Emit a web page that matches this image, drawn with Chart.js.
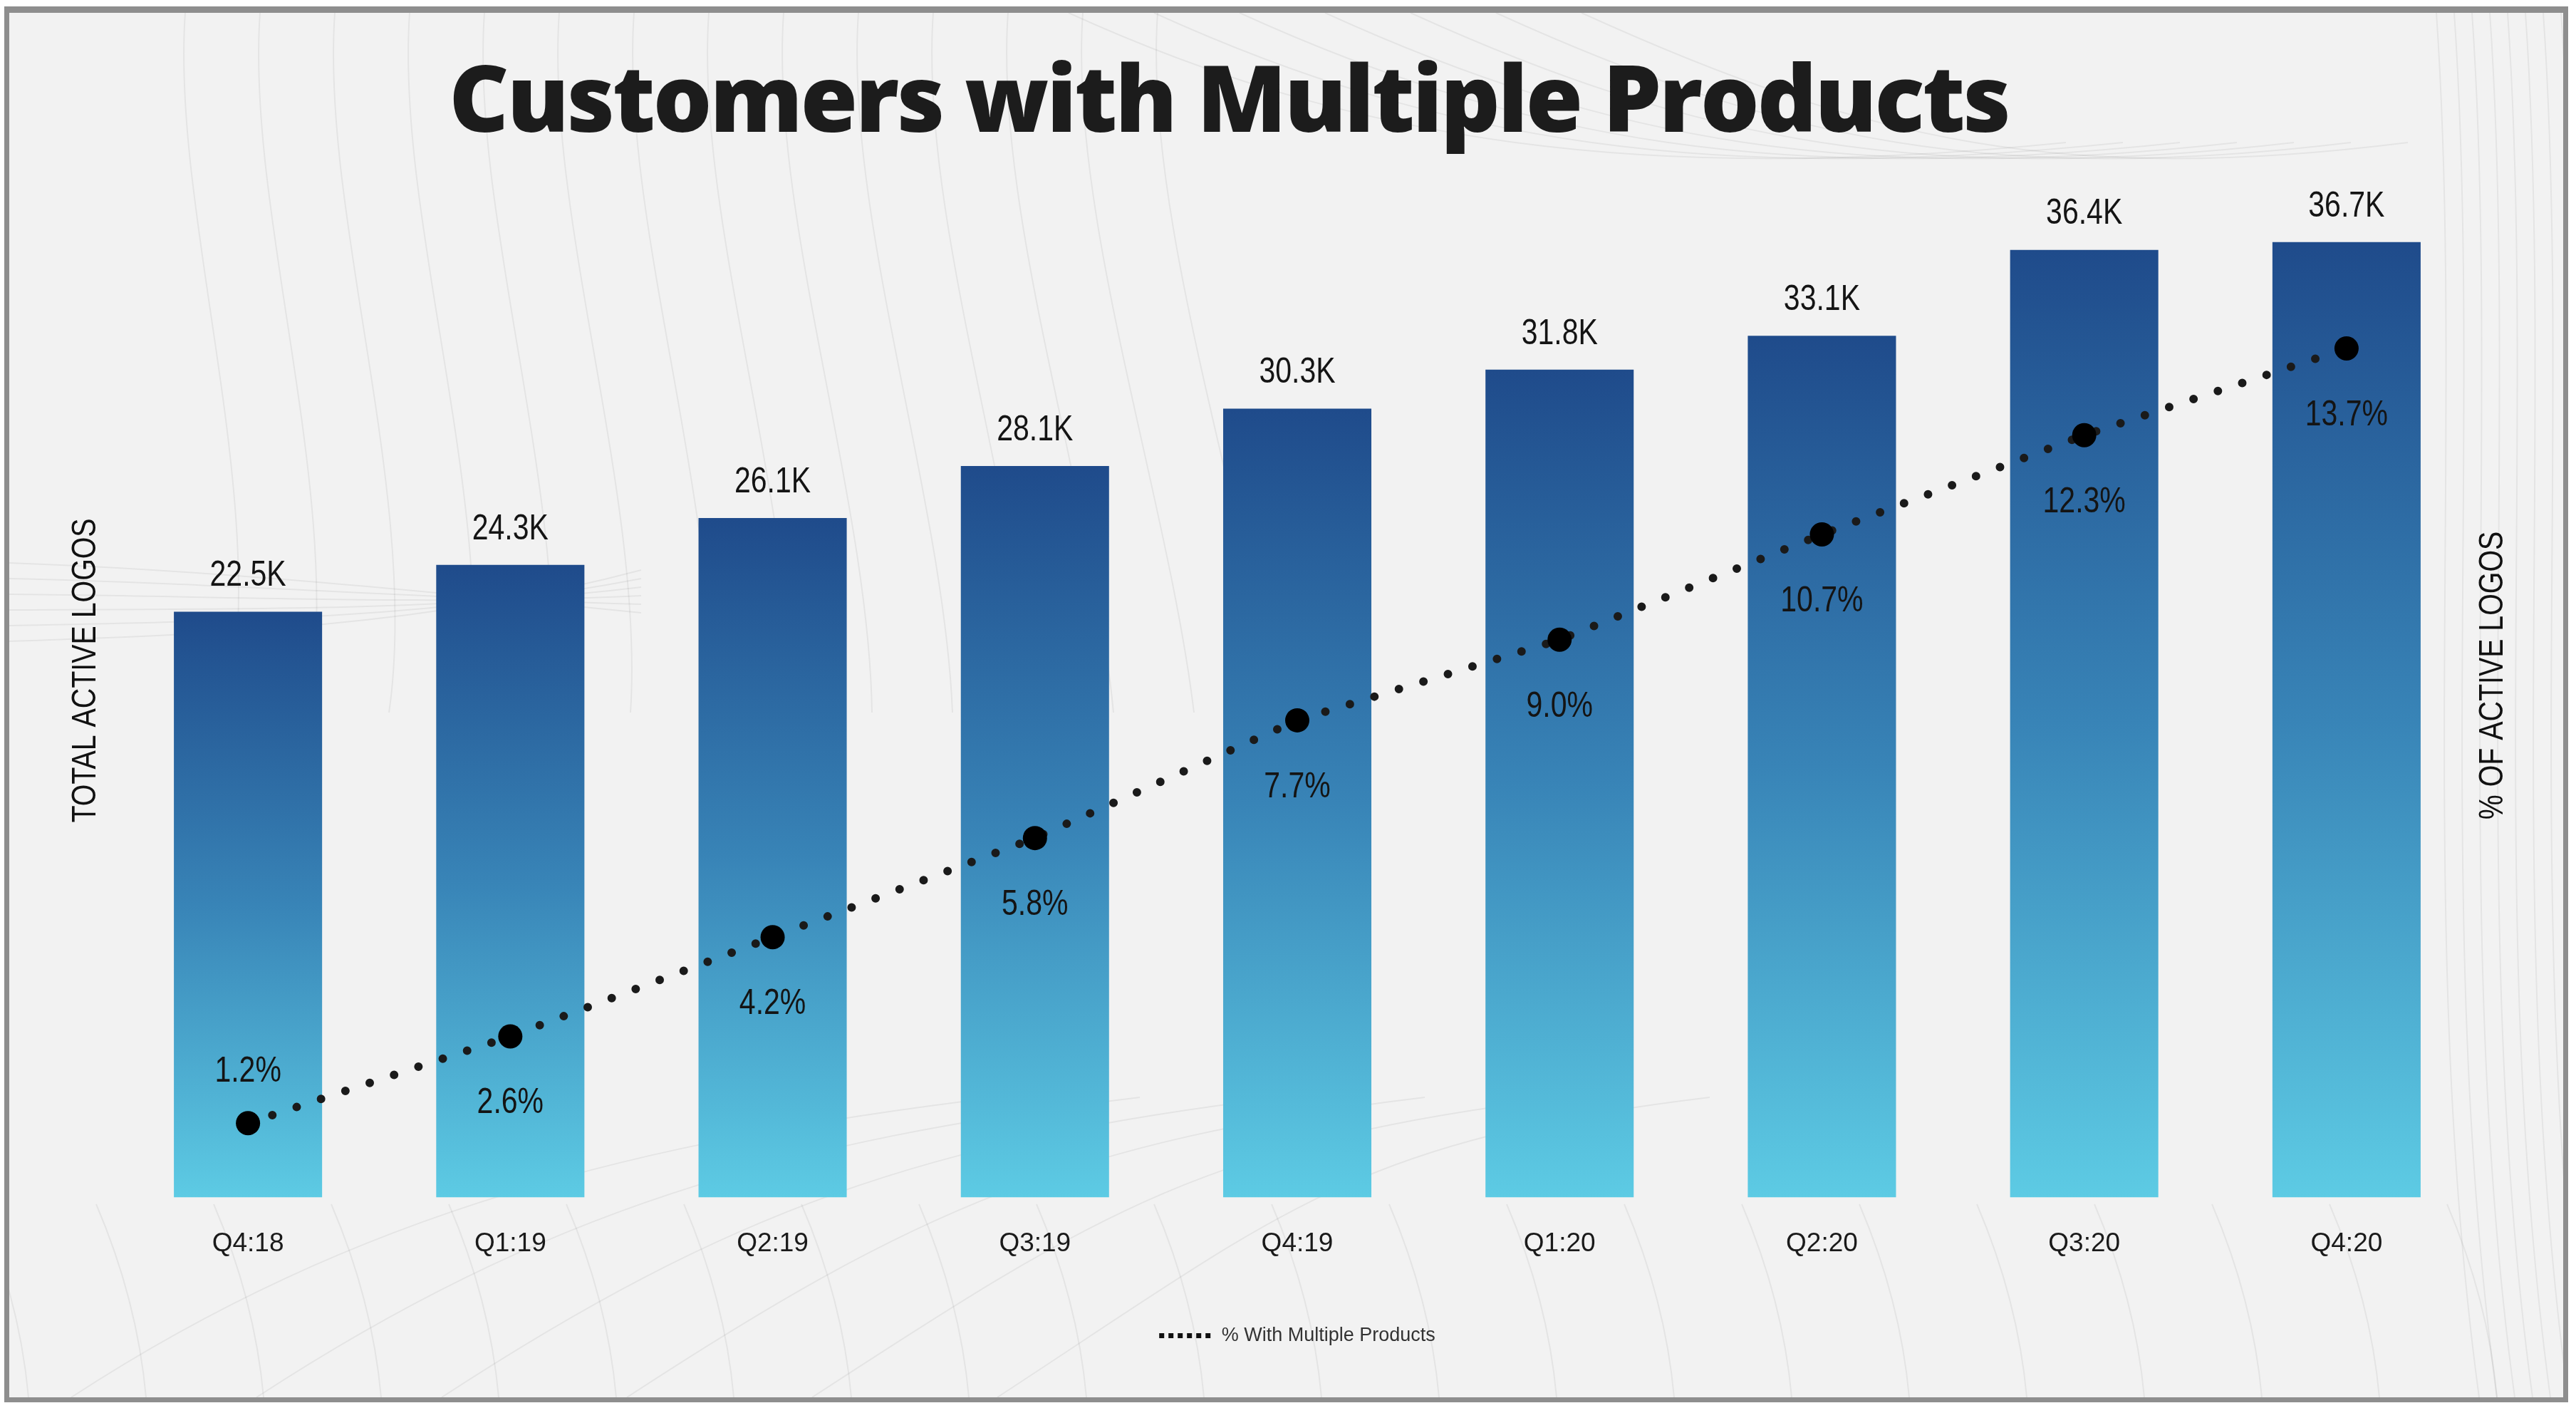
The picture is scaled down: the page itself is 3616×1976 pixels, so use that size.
<!DOCTYPE html>
<html>
<head>
<meta charset="utf-8">
<title>Customers with Multiple Products</title>
<script src="https://cdn.jsdelivr.net/npm/chart.js@4.4.1/dist/chart.umd.min.js"></script>
<style>
  html, body { margin: 0; padding: 0; background: #fff; }
  #wrap { width: 3616px; height: 1976px; }
</style>
</head>
<body>
<div id="wrap"><canvas id="mpChart"></canvas></div>
<script>
  const quarters = ['Q4:18', 'Q1:19', 'Q2:19', 'Q3:19', 'Q4:19', 'Q1:20', 'Q2:20', 'Q3:20', 'Q4:20'];
  const activeLogosK = [22.5, 24.3, 26.1, 28.1, 30.3, 31.8, 33.1, 36.4, 36.7];
  const multiProductPct = [1.2, 2.6, 4.2, 5.8, 7.7, 9.0, 10.7, 12.3, 13.7];

  const chartTitle = 'Customers with Multiple Products';
  const leftAxisTitle = 'TOTAL ACTIVE LOGOS';
  const rightAxisTitle = '% OF ACTIVE LOGOS';
  const lineLabel = '% With Multiple Products';

  const sansFont = '"Liberation Sans", Arial, Helvetica, sans-serif';
  Chart.defaults.font.family = sansFont;

  // arial narrow look-alike: squeeze liberation sans horizontally
  function narrowText(ctx, text, x, y, size, angle) {
    ctx.save();
    ctx.translate(x, y);
    if (angle) ctx.rotate(angle);
    ctx.scale(0.82, 1);
    ctx.font = size + 'px ' + sansFont;
    ctx.fillText(text, 0, 0);
    ctx.restore();
  }

  // faint wavy lines + grey frame behind everything
  const backdrop = {
    id: 'backdrop',
    beforeDraw(chart) {
      const { ctx, width, height } = chart;
      ctx.save();
      ctx.fillStyle = '#ffffff';
      ctx.fillRect(0, 0, width, height);
      ctx.fillStyle = '#8e8e8e';
      ctx.fillRect(6, 9, 3599, 1959);
      ctx.fillStyle = '#f2f2f2';
      ctx.fillRect(13, 18, 3585, 1943);

      ctx.beginPath();
      ctx.rect(13, 18, 3585, 1943);
      ctx.clip();
      ctx.strokeStyle = 'rgba(0,0,0,0.055)';
      ctx.lineWidth = 2;
      const curve = (x0, y0, c1x, c1y, c2x, c2y, x1, y1) => {
        ctx.beginPath();
        ctx.moveTo(x0, y0);
        ctx.bezierCurveTo(c1x, c1y, c2x, c2y, x1, y1);
        ctx.stroke();
      };
      for (let i = 0; i < 14; i++) {
        const x = 260 + i * 105;
        curve(x, 18, x - 20, 300, x + 120, 700, x + 60 + i * 8, 1000);
      }
      for (let i = 0; i < 6; i++) {
        curve(13, 790 + i * 22, 300, 800 + i * 18, 600, 830 + i * 10, 900, 860 - i * 12);
      }
      for (let i = 0; i < 22; i++) {
        const x = 40 + i * 165;
        curve(x, 1961, x - 10, 1850, x - 40, 1760, x - 70, 1690);
      }
      for (let i = 0; i < 6; i++) {
        curve(100 + i * 260, 1961, 500 + i * 260, 1700, 900 + i * 200, 1600, 1400 + i * 200, 1540);
      }
      for (let i = 0; i < 8; i++) {
        const x = 3420 + i * 25;
        curve(x, 18, x + 40, 600, x - 30, 1300, x + 60, 1961);
      }
      for (let i = 0; i < 7; i++) {
        curve(1500 + i * 120, 18, 1900 + i * 120, 200, 2300 + i * 100, 260, 2900 + i * 80, 200);
      }
      ctx.restore();
    }
  };

  // title, axis titles and value labels
  const annotations = {
    id: 'annotations',
    afterDatasetsDraw(chart) {
      const { ctx } = chart;
      const bars = chart.getDatasetMeta(0).data;
      const points = chart.getDatasetMeta(1).data;
      ctx.save();
      ctx.fillStyle = '#141414';
      ctx.textAlign = 'center';
      ctx.textBaseline = 'middle';
      bars.forEach((bar, i) => {
        narrowText(ctx, activeLogosK[i].toFixed(1) + 'K', bar.x, bar.y - 50, 50);
      });
      points.forEach((pt, i) => {
        const v = multiProductPct[i];
        const y = v < 2 ? pt.y - 72 : pt.y + 94;
        narrowText(ctx, v.toFixed(1) + '%', bars[i].x, y, 50);
      });

      ctx.fillStyle = '#111';
      narrowText(ctx, leftAxisTitle, 121, 941, 48, -Math.PI / 2);
      narrowText(ctx, rightAxisTitle, 3500, 948, 48, -Math.PI / 2);

      ctx.font = '800 130px "Open Sans", "Noto Sans", sans-serif';
      ctx.letterSpacing = '-3px';
      ctx.fillStyle = '#1c1c1c';
      ctx.textBaseline = 'alphabetic';
      ctx.fillText(chartTitle, 1725, 185);
      ctx.restore();
    }
  };

  function barGradient(context) {
    const chart = context.chart;
    if (!chart.chartArea || context.type !== 'data') return '#3a84b7';
    const yScale = chart.scales.y;
    const top = yScale.getPixelForValue(context.raw);
    const base = yScale.getPixelForValue(0);
    const g = chart.ctx.createLinearGradient(0, top, 0, base);
    g.addColorStop(0, '#1f4b8b');
    g.addColorStop(0.5, '#3884b7');
    g.addColorStop(1, '#5dcbe4');
    return g;
  }

  const ctx = document.getElementById('mpChart').getContext('2d');
  const mpChart = new Chart(ctx, {
    type: 'bar',
    data: {
      labels: quarters,
      datasets: [
        {
          type: 'bar',
          label: leftAxisTitle,
          data: activeLogosK,
          backgroundColor: barGradient,
          borderWidth: 0,
          categoryPercentage: 1,
          barPercentage: 0.565,
          yAxisID: 'y',
          order: 2
        },
        {
          type: 'line',
          label: lineLabel,
          data: multiProductPct,
          yAxisID: 'y2',
          borderColor: '#1a1a1a',
          borderWidth: 12,
          borderDash: [0, 36],
          borderCapStyle: 'round',
          pointRadius: 17,
          pointHoverRadius: 17,
          pointBackgroundColor: '#000',
          pointBorderWidth: 0,
          tension: 0,
          fill: false,
          order: 1
        }
      ]
    },
    options: {
      responsive: true,
      maintainAspectRatio: false,
      devicePixelRatio: 1,
      animation: false,
      layout: { padding: { left: 164, right: 138, top: 202, bottom: 78 } },
      scales: {
        x: {
          ticks: { padding: 43, font: { size: 37 }, color: '#1a1a1a' },
          grid: { display: false, drawTicks: false },
          border: { display: false }
        },
        y: { display: false, min: 0, max: 40.47 },
        y2: { display: false, position: 'right', min: 0, max: 17 }
      },
      plugins: {
        tooltip: { enabled: false },
        title: { display: false },
        legend: {
          position: 'bottom',
          labels: {
            font: { size: 27 },
            color: '#333',
            padding: 50,
            usePointStyle: true,
            pointStyleWidth: 74,
            generateLabels: () => [{
              text: lineLabel,
              pointStyle: 'line',
              lineWidth: 7,
              lineDash: [7, 6],
              lineCap: 'butt',
              strokeStyle: '#111',
              fillStyle: '#111',
              fontColor: '#333',
              datasetIndex: 1
            }]
          }
        }
      }
    },
    plugins: [backdrop, annotations]
  });
</script>
</body>
</html>
